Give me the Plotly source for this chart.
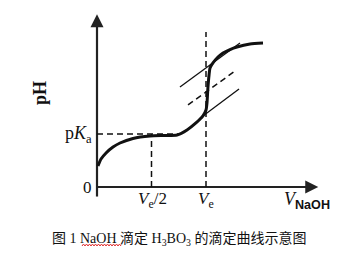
import plotly.graph_objects as go

# Titration curve (schematic): V in units of Ve, pH in arbitrary units (pKa = 5)
V = [0.009, 0.037, 0.083, 0.147, 0.211, 0.330, 0.486, 0.624, 0.734, 0.826, 0.908,
     0.972, 1.0, 1.009, 1.018, 1.028, 1.037, 1.064, 1.110, 1.156, 1.220, 1.284, 1.404, 1.523]
pH = [1.98, 2.64, 3.21, 3.77, 4.15, 4.58, 4.81, 4.86, 4.91, 5.38, 6.04,
      6.70, 7.26, 7.92, 9.43, 10.57, 11.23, 11.70, 12.26, 12.64, 12.97, 13.21, 13.49, 13.58]
pKa = 5.0
Ve = 1.0
# tangent construction lines
upper_x = [0.761, 1.312]; upper_y = [9.43, 13.58]
lower_x = [0.972, 1.303]; lower_y = [6.70, 9.25]
mid_x = [0.835, 1.266]; mid_y = [7.74, 10.94]

W, H = 346, 256
x0px, y0px = 97, 187
sx, sy = 109.0, 10.6
xr = [-x0px / sx, (W - x0px) / sx]
yr = [-(H - y0px) / sy, y0px / sy]

fig = go.Figure()
blk = "#111111"
# axes line
fig.add_trace(go.Scatter(x=[0, 0], y=[-0.9, 15.5], mode="lines", line=dict(color="#222", width=2.2), hoverinfo="skip"))
fig.add_trace(go.Scatter(x=[0, 1.95], y=[0, 0], mode="lines", line=dict(color="#222", width=2.2), hoverinfo="skip"))
# guide dashed lines
fig.add_trace(go.Scatter(x=[0, 0.75], y=[pKa, pKa], mode="lines", line=dict(color=blk, width=1.5, dash="6px,4px")))
fig.add_trace(go.Scatter(x=[Ve / 2, Ve / 2], y=[0, pKa], mode="lines", line=dict(color=blk, width=1.5, dash="6px,4px")))
fig.add_trace(go.Scatter(x=[Ve, Ve], y=[0, 14.62], mode="lines", line=dict(color=blk, width=1.5, dash="6px,4px")))
# tangents
fig.add_trace(go.Scatter(x=upper_x, y=upper_y, mode="lines", line=dict(color=blk, width=1.3)))
fig.add_trace(go.Scatter(x=lower_x, y=lower_y, mode="lines", line=dict(color=blk, width=1.3)))
fig.add_trace(go.Scatter(x=mid_x, y=mid_y, mode="lines", line=dict(color=blk, width=1.5, dash="6px,4px")))
# curve
fig.add_trace(go.Scatter(x=V, y=pH, mode="lines", line=dict(color=blk, width=3, shape="spline", smoothing=0.6)))

# arrowheads
fig.add_annotation(x=0, y=16.3, ax=0, ay=15.0, xref="x", yref="y", axref="x", ayref="y",
                   showarrow=True, arrowhead=2, arrowsize=1.3, arrowwidth=2, arrowcolor="#222", text="")
fig.add_annotation(x=2.03, y=0, ax=1.9, ay=0, xref="x", yref="y", axref="x", ayref="y",
                   showarrow=True, arrowhead=2, arrowsize=1.3, arrowwidth=2, arrowcolor="#222", text="")

serif = "Liberation Serif, Times New Roman, serif"
def txt(x, y, t, size=16, xa="center", ya="middle", angle=0, fam=serif):
    fig.add_annotation(x=x, y=y, xref="x", yref="y", text=t, showarrow=False, xanchor=xa, yanchor=ya,
                       textangle=angle, font=dict(family=fam, size=size, color=blk))

txt(-0.083, -0.09, "0", 17)
txt(-0.03, 5.0, "p<i>K</i><sub>a</sub>", 18, xa="right")
txt(-0.523, 8.87, "<b>pH</b>", 18, angle=-90)
txt(0.505, -1.25, "<i>V</i><sub>e</sub>/2", 17)
txt(1.0, -1.25, "<i>V</i><sub>e</sub>", 17)
txt(1.70, -1.3, "<i>V</i><sub><b><span style='font-family:Liberation Sans,Arial,sans-serif'>NaOH</span></b></sub>", 18, xa="left")

cap = ("<span style='font-family:Noto Sans CJK SC'>图</span> 1 NaOH "
       "<span style='font-family:Noto Sans CJK SC'>滴定</span> H<sub>3</sub>BO<sub>3</sub> "
       "<span style='font-family:Noto Sans CJK SC'>的滴定曲线示意图</span>")
txt(0.752, -4.8, cap, 14)

# red wavy spell-check underline under "NaOH" (decoration)
ux0, ux1, uy, amp, step = (82 - x0px) / sx, (121 - x0px) / sx, (y0px - 245) / sy, 1.0 / sy, 1.5 / sx
pts = []
k = 0
xx = ux0
while xx <= ux1:
    pts.append((xx, uy + (amp if k % 2 else -amp)))
    xx += step
    k += 1
path = "M " + " L ".join(f"{a:.4f},{b:.4f}" for a, b in pts)
fig.add_shape(type="path", path=path, xref="x", yref="y", line=dict(color="#e03030", width=1))

fig.update_layout(width=W, height=H, margin=dict(l=0, r=0, t=0, b=0), showlegend=False,
                  paper_bgcolor="white", plot_bgcolor="white",
                  xaxis=dict(range=xr, visible=False, fixedrange=True),
                  yaxis=dict(range=yr, visible=False, fixedrange=True))
fig.write_html("out.html")
